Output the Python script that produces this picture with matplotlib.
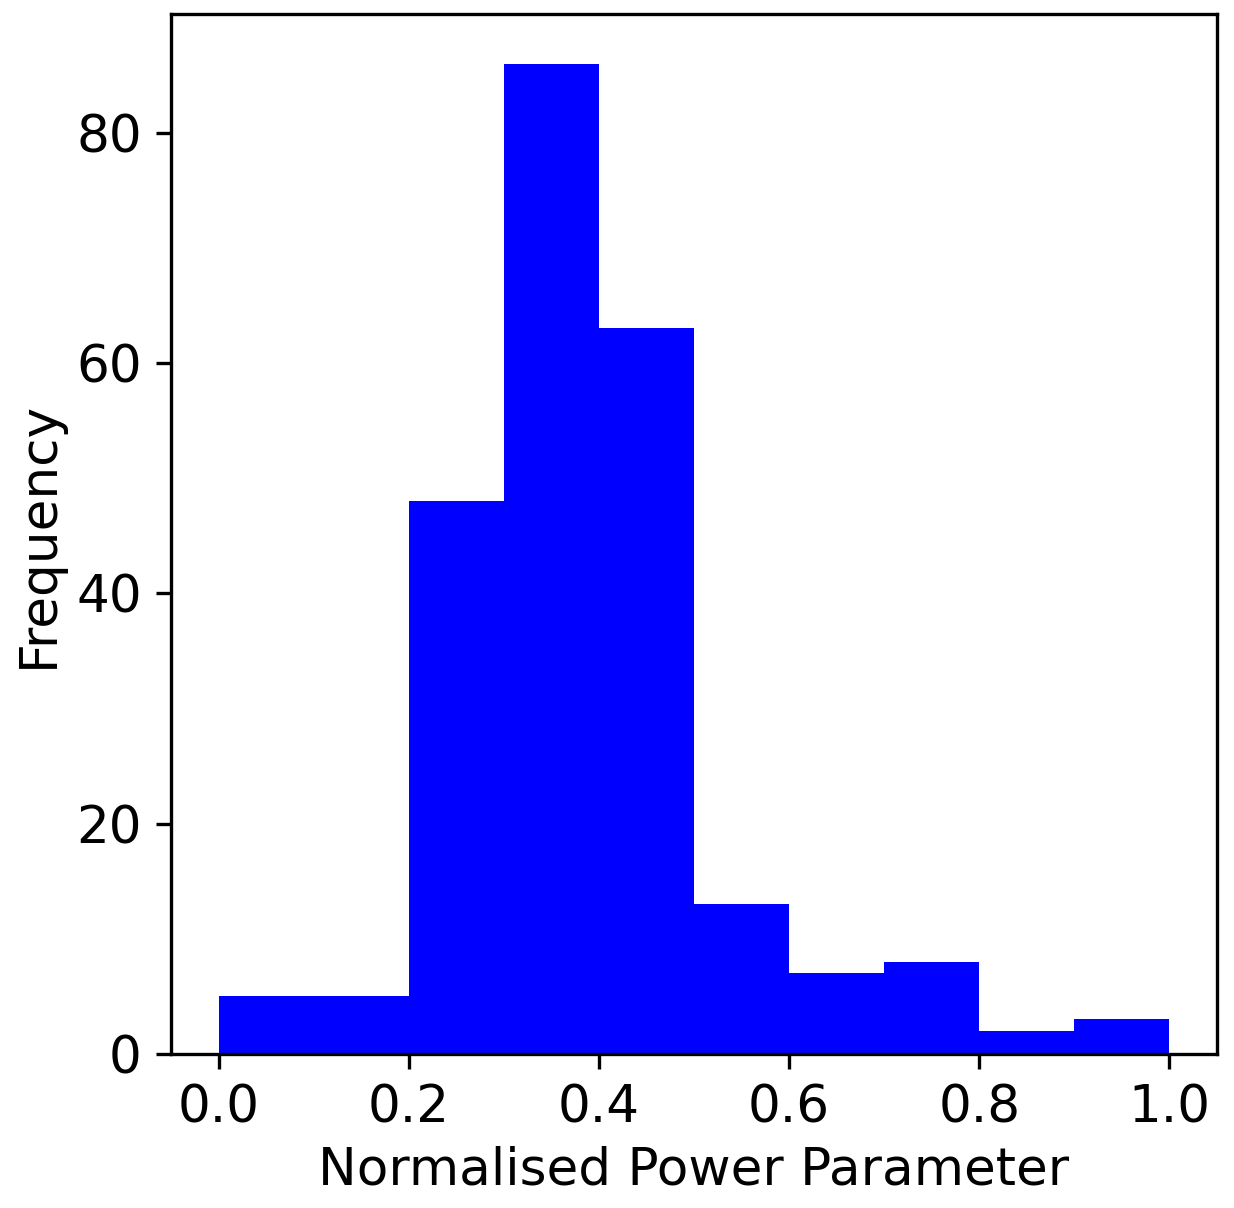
import matplotlib
matplotlib.use("Agg")
import matplotlib.pyplot as plt
import numpy as np

# --- Data ---
bin_edges = [0.0, 0.1, 0.2, 0.3, 0.4, 0.5, 0.6, 0.7, 0.8, 0.9, 1.0]
counts = [5, 5, 48, 86, 63, 13, 7, 8, 2, 3]

bin_centres = [(a + b) / 2 for a, b in zip(bin_edges[:-1], bin_edges[1:])]

plt.rcParams["font.size"] = 12.4

fig = plt.figure(figsize=(1235 / 300, 1208 / 300), dpi=300)
ax = fig.add_axes([171 / 1235, 1 - 1054 / 1208, (1217 - 171) / 1235, (1054 - 14) / 1208])

ax.hist(bin_centres, bins=bin_edges, weights=counts, color="blue")

ax.set_xlabel("Normalised Power Parameter", labelpad=3)
ax.set_ylabel("Frequency", labelpad=3)
ax.set_yticks([0, 20, 40, 60, 80])

fig.savefig("out.png", dpi=300)
